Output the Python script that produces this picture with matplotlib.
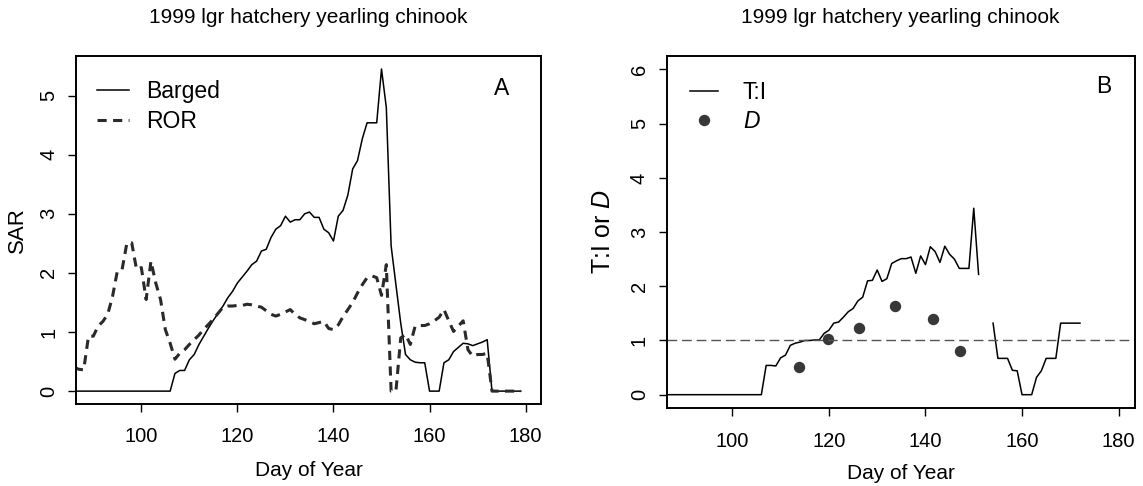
import numpy as np
import matplotlib
matplotlib.use("Agg")
import matplotlib.pyplot as plt

plt.rcParams['font.family'] = ['Liberation Sans', 'DejaVu Sans']
plt.rcParams['mathtext.fontset'] = 'custom'
plt.rcParams['mathtext.rm'] = 'Liberation Sans'
plt.rcParams['mathtext.it'] = 'Liberation Sans:italic'

title = "1999 lgr hatchery yearling chinook"

# panel A: daily SAR, days 86..179
days_a = list(range(86, 180))
barged = [0.0] * 21 + [
    0.30, 0.35, 0.35, 0.53, 0.62, 0.79, 0.93, 1.07, 1.20, 1.32,   # 107-116
    1.44, 1.58, 1.69, 1.83, 1.93, 2.03, 2.14, 2.20, 2.37, 2.40,   # 117-126
    2.60, 2.74, 2.80, 2.96, 2.86, 2.90, 2.90, 3.00, 3.03, 2.94,   # 127-136
    2.94, 2.74, 2.68, 2.54, 2.96, 3.06, 3.32, 3.76, 3.90, 4.27,   # 137-146
    4.54, 4.54, 4.54, 5.45, 4.80, 2.46, 1.80, 1.15, 0.62, 0.53,   # 147-156
    0.49, 0.48, 0.48, 0.00, 0.00, 0.00, 0.48, 0.53, 0.67, 0.74,   # 157-166
    0.81, 0.80, 0.77, 0.80, 0.83, 0.87,                           # 167-172
] + [0.0] * 7
ror = [
    0.40, 0.37, 0.36, 0.93, 0.93, 1.10, 1.18, 1.30, 1.60, 2.03,   # 86-95
    2.06, 2.51, 2.51, 2.06, 2.09, 1.55, 2.20, 1.83, 1.55, 1.04,   # 96-105
    0.81, 0.54, 0.64, 0.70, 0.79, 0.87, 0.95, 1.05, 1.13, 1.22,   # 106-115
    1.32, 1.42, 1.44, 1.44, 1.45, 1.45, 1.47, 1.46, 1.44, 1.42,   # 116-125
    1.36, 1.30, 1.27, 1.30, 1.34, 1.38, 1.30, 1.24, 1.21, 1.18,   # 126-135
    1.14, 1.16, 1.18, 1.06, 1.04, 1.12, 1.26, 1.38, 1.50, 1.66,   # 136-145
    1.80, 1.92, 1.95, 1.92, 1.62, 2.14, 0.00, 0.00, 0.90, 0.96,   # 146-155
    0.79, 1.10, 1.11, 1.11, 1.14, 1.19, 1.25, 1.38, 1.19, 1.01,   # 156-165
    1.10, 1.19, 0.70, 0.59, 0.62, 0.62, 0.64,                     # 166-172
] + [0.0] * 7

# panel B: T:I ratio, days 86..172 (gap where ROR is zero)
days_b = list(range(86, 173))
nan = float('nan')
ti_ratio = [0.0] * 21 + [
    0.54, 0.54, 0.53, 0.68, 0.73, 0.91, 0.95, 0.97, 1.00, 1.00,   # 107-116
    1.01, 1.01, 1.13, 1.19, 1.32, 1.34, 1.43, 1.53, 1.59, 1.73,   # 117-126
    1.80, 2.10, 2.11, 2.30, 2.09, 2.14, 2.42, 2.47, 2.51, 2.51,   # 127-136
    2.54, 2.24, 2.56, 2.40, 2.73, 2.64, 2.44, 2.74, 2.59, 2.50,   # 137-146
    2.33, 2.33, 2.33, 3.44, 2.22, nan, nan, 1.32, 0.67, 0.67,     # 147-156
    0.67, 0.45, 0.44, 0.00, 0.00, 0.00, 0.32, 0.44, 0.67, 0.67,   # 157-166
    0.67, 1.32, 1.32, 1.32, 1.32, 1.32,                           # 167-172
]
d_days = [113.9, 119.9, 126.2, 133.6, 141.5, 147.1]
d_vals = [0.51, 1.02, 1.23, 1.63, 1.40, 0.80]

xticks = [100, 120, 140, 160, 180]

fig = plt.figure(figsize=(11.43, 4.86), dpi=100)
ax_a = fig.add_axes([0.0665, 0.1687, 0.4068, 0.716])
ax_b = fig.add_axes([0.5833, 0.160, 0.4097, 0.7249])

# --- A ---
ax_a.plot(days_a, barged, color='black', lw=1.1, label='Barged')
ax_a.plot(days_a, ror, color='#2a2a2a', lw=2.2, dashes=(3.0, 2.1), label='ROR')
ax_a.set_xlim(86.4, 183.2)
ax_a.set_ylim(-0.218, 5.67)
ax_a.set_yticks([0, 1, 2, 3, 4, 5])
ax_a.set_ylabel('SAR', fontsize=16)
ax_a.yaxis.set_label_coords(-0.125, 0.5)
ax_a.set_xlabel('Day of Year', fontsize=15)
ax_a.xaxis.set_label_coords(0.5, -0.19)
ax_a.legend(loc='upper left', bbox_to_anchor=(0.045, 0.93), frameon=False,
            fontsize=16.5, handlelength=1.4, handletextpad=0.75,
            labelspacing=0.29, borderpad=0, borderaxespad=0)
ax_a.text(0.9155, 0.908, 'A', transform=ax_a.transAxes, fontsize=16.5,
          ha='center', va='center')

# --- B ---
ax_b.plot(days_b, ti_ratio, color='black', lw=1.1, label='T:I')
ax_b.plot(d_days, d_vals, 'o', color='#383838', ms=7.2, label=r'$\mathit{D}$')
ax_b.axhline(1, color='#555555', lw=1.0, dashes=(7, 3.5))
ax_b.set_xlim(86.4, 183.4)
ax_b.set_ylim(-0.25, 6.25)
ax_b.set_yticks([0, 1, 2, 3, 4, 5, 6])
ax_b.set_ylabel(r'T:I or $\mathit{D}$', fontsize=18)
ax_b.yaxis.set_label_coords(-0.136, 0.5)
ax_b.set_xlabel('Day of Year', fontsize=15)
ax_b.xaxis.set_label_coords(0.5, -0.186)
ax_b.legend(loc='upper left', bbox_to_anchor=(0.05, 0.93), frameon=False,
            fontsize=16.5, handlelength=1.2, handletextpad=1.1,
            labelspacing=0.29, borderpad=0, borderaxespad=0)
ax_b.text(0.934, 0.912, 'B', transform=ax_b.transAxes, fontsize=16.5,
          ha='center', va='center')

for ax in (ax_a, ax_b):
    ax.set_xticks(xticks)
    for sp in ax.spines.values():
        sp.set_linewidth(1.4)
    ax.tick_params(axis='both', direction='out', length=5.8, width=1.0,
                   labelsize=14.5)
    ax.tick_params(axis='x', pad=11)
    ax.tick_params(axis='y', pad=7, labelrotation=90)
    for lbl in ax.get_yticklabels():
        lbl.set_va('center')
    ax.xaxis.label.set_va('center')
    ax.yaxis.label.set_va('center')

fig.text(0.27, 0.963, title, fontsize=15, ha='center', va='center')
fig.text(0.788, 0.963, title, fontsize=15, ha='center', va='center')

fig.savefig('out.png', dpi=100)
